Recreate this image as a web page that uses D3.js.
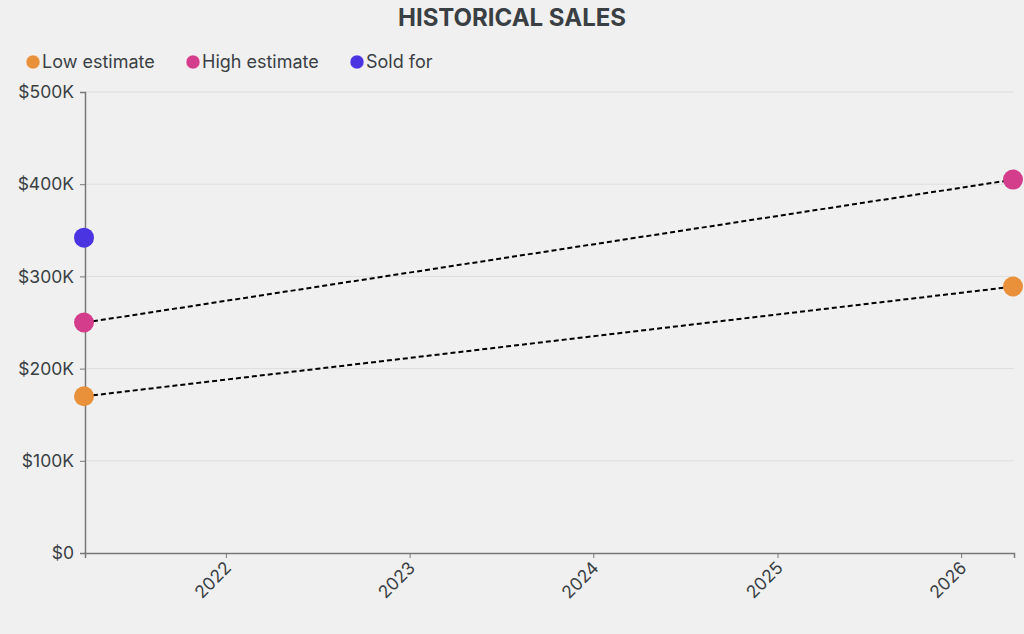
<!DOCTYPE html>
<html><head><meta charset="utf-8">
<script src="https://cdn.jsdelivr.net/npm/d3@7"></script>
<style>
html,body{margin:0;padding:0;background:#f0f0f0;}
svg{display:block;}
svg text{font-family:Inter,"Noto Sans",sans-serif;}
</style></head>
<body><svg id="c" width="1024" height="634"></svg>
<script>
const seriesNames = ["Low estimate", "High estimate", "Sold for"];
const seriesColors = ["#e8903a", "#d43d8c", "#4a33e0"];
const dates = ["2021-03-27", "2026-04-16"];
const lowEstimate = [170000, 289000];
const highEstimate = [250000, 405000];
const soldDates = ["2021-03-27"];
const soldFor = [342000];
const yTicks = [0, 100000, 200000, 300000, 400000, 500000];
const xTickYears = [2022, 2023, 2024, 2025, 2026];

const svg = d3.select("#c");
const m = {l: 85, r: 1014, t: 92, b: 553};
const parse = d3.timeParse("%Y-%m-%d");
const x = d3.scaleTime().domain([parse(dates[0]), parse(dates[1])]).range([m.l, m.r]);
const y = d3.scaleLinear().domain([0, 500000]).range([m.b, m.t]);

// grid
svg.append("g").selectAll("line").data(yTicks.slice(1)).join("line")
  .attr("x1", m.l).attr("x2", m.r).attr("y1", d => y(d)).attr("y2", d => y(d))
  .attr("stroke", "#dedede").attr("stroke-width", 1);

// y axis
const ya = svg.append("g").attr("transform", `translate(${m.l},0)`)
  .call(d3.axisLeft(y).tickValues(yTicks).tickSize(5).tickPadding(6)
    .tickFormat(d => d === 0 ? "$0" : "$" + (d / 1000) + "K"));
ya.attr("font-family", null).attr("font-size", null);
ya.select(".domain").attr("stroke", "#777").attr("stroke-width", 1.5);
ya.selectAll(".tick line").attr("stroke", "#777");
ya.selectAll("text").attr("fill", "#3a3f44").style("font-size", "17.5px");

// x axis
const xa = svg.append("g").attr("transform", `translate(0,${m.b})`)
  .call(d3.axisBottom(x).tickValues(xTickYears.map(v => new Date(v, 0, 1)))
    .tickSize(5).tickFormat(d3.timeFormat("%Y")));
xa.attr("font-family", null).attr("font-size", null);
xa.select(".domain").attr("stroke", "#777").attr("stroke-width", 1.5);
xa.selectAll(".tick line").attr("stroke", "#777");
xa.selectAll("text").attr("fill", "#3a3f44").style("font-size", "17.5px")
  .attr("text-anchor", "end").attr("dy", null).attr("y", 0)
  .attr("transform", "translate(6,16) rotate(-45)");

// lines
const line = d3.line().x(d => x(parse(d[0]))).y(d => y(d[1]));
[lowEstimate, highEstimate].forEach(vals => {
  svg.append("path").datum(dates.map((d, i) => [d, vals[i]]))
    .attr("d", line).attr("fill", "none").attr("stroke", "#000")
    .attr("stroke-width", 2).attr("stroke-dasharray", "5,3");
});

// points
const pts = [];
dates.forEach((d, i) => { pts.push([d, lowEstimate[i], 0]); pts.push([d, highEstimate[i], 1]); });
soldDates.forEach((d, i) => pts.push([d, soldFor[i], 2]));
svg.append("g").selectAll("circle").data(pts).join("circle")
  .attr("cx", d => x(parse(d[0])) - 1).attr("cy", d => y(d[1])).attr("r", 10)
  .attr("fill", d => seriesColors[d[2]]);

// title
svg.append("text").attr("x", 512).attr("y", 26).attr("text-anchor", "middle")
  .attr("fill", "#3a3f44").style("font-size", "24px").style("font-weight", "700")
  .text("HISTORICAL SALES");

// legend
const legX = [33, 193, 357];
const lg = svg.append("g").selectAll("g").data(seriesNames).join("g")
  .attr("transform", (d, i) => `translate(${legX[i]},62)`);
lg.append("circle").attr("r", 7).attr("fill", (d, i) => seriesColors[i])
  .attr("stroke", "#fff").attr("stroke-width", 0.5);
lg.append("text").attr("x", 9).attr("dy", "0.35em").attr("fill", "#3a3f44")
  .style("font-size", "18px").text(d => d);
</script></body></html>
